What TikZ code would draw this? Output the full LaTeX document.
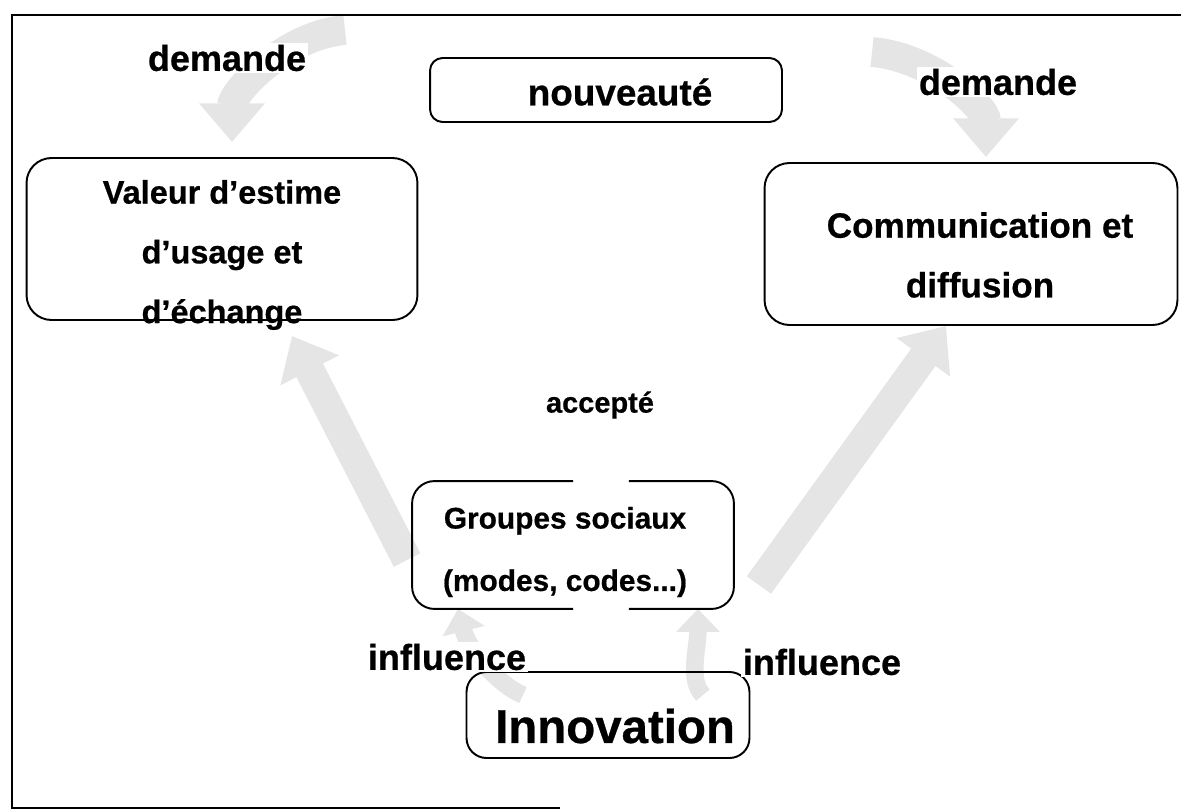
\documentclass[tikz,border=0pt]{standalone}
\usepackage{fontspec}
\setmainfont{Liberation Sans}[BoldFeatures={FakeBold=0.6}]
\usetikzlibrary{arrows.meta,positioning,backgrounds}

\tikzset{
  outline/.style={line width=1.1pt},
  roundbox/.style={draw, line width=1.1pt, rounded corners=0.5cm, inner sep=0pt},
  boxtext/.style={font=\bfseries\fontsize{18.5}{34}\selectfont, align=center, inner sep=1pt},
  word/.style={font=\bfseries\fontsize{20.5}{24}\selectfont, fill=white, inner sep=1pt},
  flow/.style={draw=black!10, line width=17pt, -{Triangle[width=36pt,length=22pt]}},
  smallflow/.style={draw=black!10, line width=10pt, -{Triangle[width=24pt,length=13pt]}},
}

\begin{document}
\begin{tikzpicture}[x=0.02cm,y=-0.02cm]
    \useasboundingbox (0,0) rectangle (1181,811);

    % frame, open on the right
    \draw[outline] (1181,15) -- (12,15) -- (12,808) -- (560,808);

    \node[roundbox, minimum width=7.04cm, minimum height=1.28cm, rounded corners=0.25cm] (newbox) at (606,90) {};
    \node[boxtext, font=\bfseries\fontsize{21}{24}\selectfont] (newtext) at (620,92) {nouveauté};

    \node[roundbox, minimum width=7.82cm, minimum height=3.24cm] (valbox) at (222,239) {};
    \node[boxtext] (valtext) at (222,255) {Valeur d’estime\\d’usage et\\d’échange};

    \node[roundbox, minimum width=8.26cm, minimum height=3.24cm] (combox) at (971,244) {};
    \node[boxtext, font=\bfseries\fontsize{20}{34}\selectfont] (comtext) at (980,255) {Communication et\\diffusion};

    % box with a gap in its top and bottom lines
    \node[roundbox, draw=none, minimum width=6.4cm, minimum height=2.52cm] (grpbox) at (573,545) {};
    \node[boxtext, font=\bfseries\fontsize{17}{35.5}\selectfont] (grptext) at (565,552) {Groupes sociaux\\(modes, codes...)};
    \draw[outline, rounded corners=0.45cm] (grpbox.north) -| (grpbox.south west) -- (grpbox.south);
    \draw[outline, rounded corners=0.45cm] ([xshift=1.12cm]grpbox.south) -| (grpbox.north east) -- ([xshift=1.12cm]grpbox.north);

    \node[roundbox, minimum width=5.66cm, minimum height=1.72cm, rounded corners=0.4cm] (innbox) at (608,715) {};
    \node[boxtext, font=\bfseries\fontsize{27}{30}\selectfont] (inntext) at (615,726) {Innovation};

    % labels
    \node[word] (demleft) at (227,58) {demande};
    \node[word] (demright) at (998,82) {demande};
    \node[word, fill=none, font=\bfseries\fontsize{16.5}{20}\selectfont] (accept) at (600,405) {accepté};
    \node[word] (infleft) at (447,657) {influence};
    \node[word] (infright) at (822,662) {influence};

    \coordinate (dl) at (345,30);
    \coordinate (dr) at (872,52);

    % grey arrows behind everything
    \begin{scope}[on background layer]
    \draw[flow] ([shift={(-0.1cm,-0.3cm)}]grpbox.west) -- ([xshift=1.4cm,yshift=-0.3cm]valbox.south);
    \draw[flow] ([shift={(0.5cm,-0.8cm)}]grpbox.east) -- ([xshift=-0.5cm]combox.south);
    \draw[flow] (dl) .. controls +(-60,5) and +(0,-50) .. ([xshift=0.2cm,yshift=0.3cm]valbox.north);
    \draw[flow] (dr) .. controls +(60,5) and +(0,-50) .. ([xshift=0.3cm,yshift=0.1cm]combox.north);
    \draw[smallflow] ([shift={(-1.7cm,0.4cm)}]innbox.center) .. controls +(-25,-10) and +(10,40) .. ([xshift=-2.3cm]grpbox.south);
    \draw[smallflow] ([shift={(1.9cm,0.4cm)}]innbox.center) .. controls +(-15,-15) and +(0,40) .. ([xshift=2.5cm]grpbox.south);
    \end{scope}
\end{tikzpicture}
\end{document}
